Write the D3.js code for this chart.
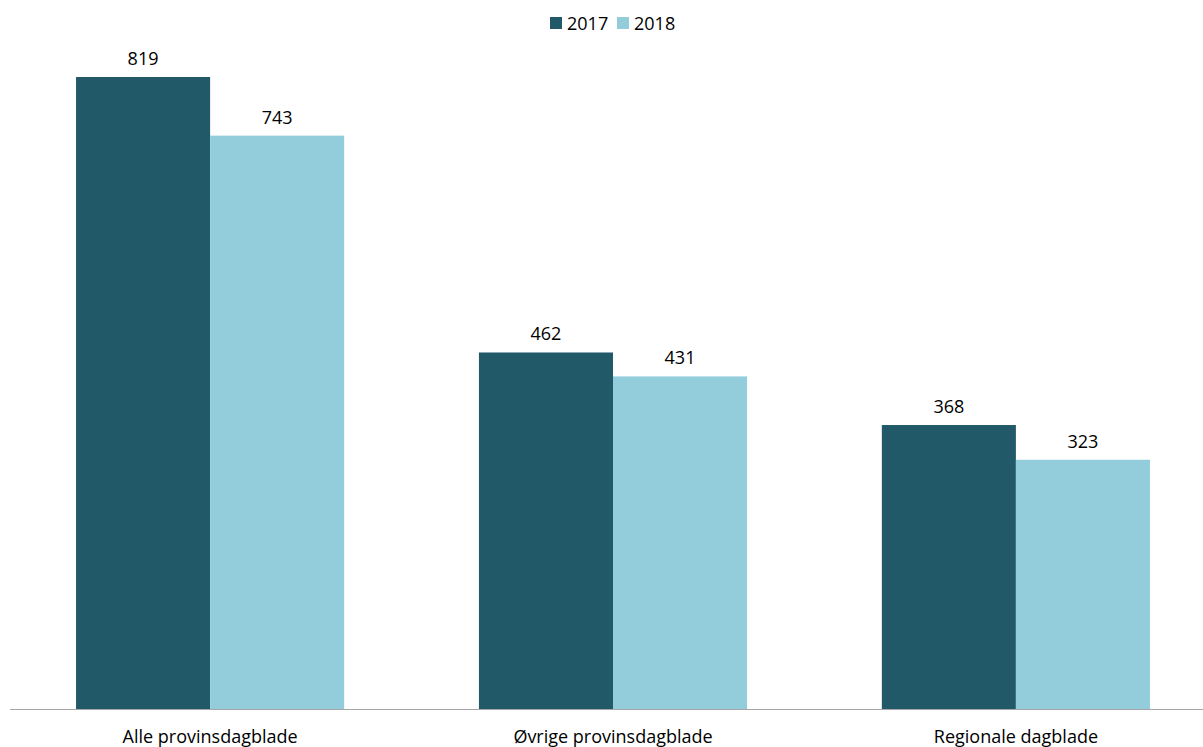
<!DOCTYPE html>
<html>
<head>
<meta charset="utf-8">
<script src="https://cdn.jsdelivr.net/npm/d3@7"></script>
<style>
  body { margin: 0; background: #fff; }
  text { font-family: "Open Sans", "Noto Sans", sans-serif; fill: #000; }
</style>
</head>
<body>
<div id="chart"></div>
<script>
const categories = ['Alle provinsdagblade', 'Øvrige provinsdagblade', 'Regionale dagblade'];
const years = ['2017', '2018'];
const values2017 = [819, 462, 368];
const values2018 = [743, 431, 323];

const width = 1203;
const height = 747;
const colors = {'2017': '#215968', '2018': '#93cddc'};

const svg = d3.select('#chart')
  .append('svg')
  .attr('width', width)
  .attr('height', height);

const x = d3.scaleBand()
  .domain(categories)
  .range([9, 1217])
  .paddingInner(0.3345)
  .paddingOuter(0.1664);

const xInner = d3.scaleBand()
  .domain(years)
  .range([0, x.bandwidth()]);

const y = d3.scaleLinear()
  .domain([0, 819])
  .range([709, 77]);

const rows = categories.map((c, i) => ({
  category: c,
  bars: [
    {year: '2017', value: values2017[i]},
    {year: '2018', value: values2018[i]}
  ]
}));

const groups = svg.selectAll('g.group')
  .data(rows)
  .enter()
  .append('g')
  .attr('class', 'group')
  .attr('transform', d => `translate(${x(d.category)}, 0)`);

groups.selectAll('rect')
  .data(d => d.bars)
  .enter()
  .append('rect')
  .attr('x', d => xInner(d.year))
  .attr('y', d => y(d.value))
  .attr('width', xInner.bandwidth())
  .attr('height', d => y(0) - y(d.value))
  .attr('fill', d => colors[d.year]);

groups.selectAll('text.value')
  .data(d => d.bars)
  .enter()
  .append('text')
  .attr('class', 'value')
  .attr('x', d => xInner(d.year) + xInner.bandwidth() / 2)
  .attr('y', d => y(d.value) - 12)
  .attr('text-anchor', 'middle')
  .attr('font-size', '18px')
  .text(d => d.value);

// x axis
const xAxis = svg.append('g')
  .attr('transform', `translate(0, ${y(0)})`)
  .call(d3.axisBottom(x).tickSize(0).tickPadding(21));
xAxis.select('.domain').attr('stroke', '#a6a6a6').attr('d', 'M10,0.5H1203');
xAxis.selectAll('text')
  .attr('font-size', '18px')
  .attr('font-family', '"Open Sans", "Noto Sans", sans-serif')
  .attr('fill', '#000');

// legend
const legend = svg.append('g').attr('transform', 'translate(550, 17)');
const legendX = [0, 67];
years.forEach((yr, i) => {
  const g = legend.append('g').attr('transform', `translate(${legendX[i]}, 0)`);
  g.append('rect').attr('width', 12).attr('height', 12).attr('fill', colors[yr]);
  g.append('text')
    .attr('x', 17)
    .attr('y', 13)
    .attr('font-size', '18px')
    .text(yr);
});
</script>
</body>
</html>
